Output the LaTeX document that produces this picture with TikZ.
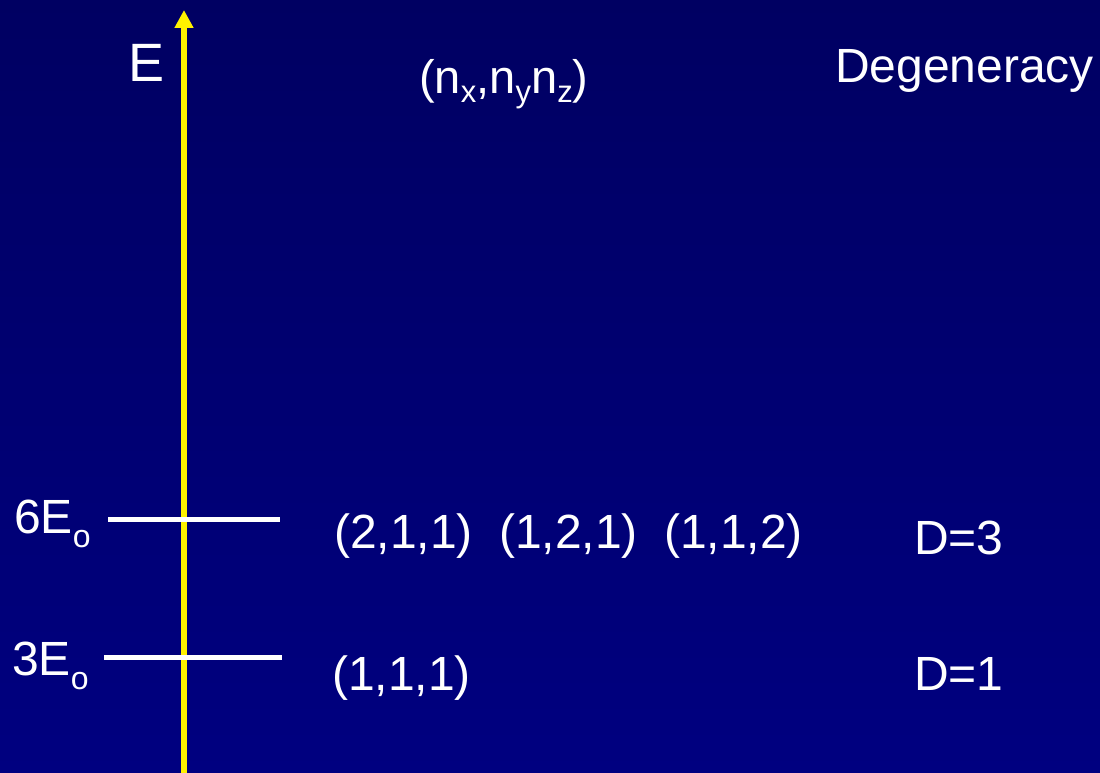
\documentclass[tikz,border=0pt]{standalone}
\usepackage{fontspec}
\setmainfont{Liberation Sans}
\usetikzlibrary{arrows.meta}
\definecolor{bgtop}{RGB}{0,0,98}
\definecolor{bgbot}{RGB}{0,0,128}
\newcommand{\fs}[1]{\fontsize{#1}{#1}\selectfont}
\newcommand{\sbx}[2]{\raisebox{-#1pt}{\fs{31}#2}}
\begin{document}
\begin{tikzpicture}[x=1pt,y=-1pt,
  lbl/.style={text=white,inner sep=0pt,anchor=base west},
  level/.style={draw=white,line width=5pt},
  axis/.style={draw=yellow,line width=6pt,-{Triangle[length=18pt,width=18pt]}}]
\useasboundingbox (0,0) rectangle (1100,773);
\shade[top color=bgtop,bottom color=bgbot] (0,0) rectangle (1100,773);
\coordinate (a0) at (184,773);
\coordinate (a1) at (184,10);
\draw[axis] (a0) -- (a1);
\coordinate (l6a) at (108,519);
\coordinate (l6b) at (280,519);
\coordinate (l3a) at (104,657);
\coordinate (l3b) at (282,657);
\draw[level] (l6a) -- (l6b);
\draw[level] (l3a) -- (l3b);
\node[lbl,font=\fs{54}] (E) at (128,82) {E};
\node[lbl,font=\fs{47}] (nn) at (419,94) {(n\sbx{9}{x},n\sbx{9}{y}n\sbx{9}{z})};
\node[lbl,font=\fs{48}] (deg) at (835,83) {Degeneracy};
\node[lbl,font=\fs{48}] (e6) at (14,533) {6E\raisebox{-14pt}{\fs{32}o}};
\node[lbl,font=\fs{48}] (e3) at (12,675) {3E\raisebox{-14pt}{\fs{32}o}};
\node[lbl,font=\fs{48}] (s1) at (334,548) {(2,1,1)};
\node[lbl,font=\fs{48}] (s2) at (499,548) {(1,2,1)};
\node[lbl,font=\fs{48}] (s3) at (664,548) {(1,1,2)};
\node[lbl,font=\fs{48}] (s0) at (332,690) {(1,1,1)};
\node[lbl,font=\fs{48}] (d3) at (914,554) {D=3};
\node[lbl,font=\fs{48}] (d1) at (914,690) {D=1};
\end{tikzpicture}
\end{document}
